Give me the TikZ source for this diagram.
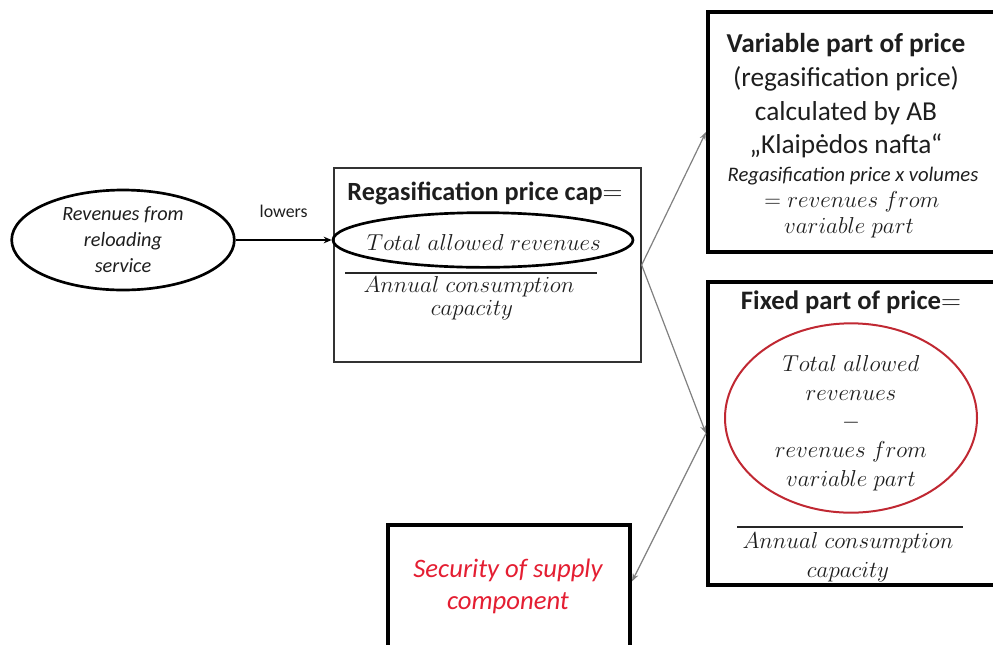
\documentclass[tikz,border=0pt]{standalone}
\usepackage{fontspec}
\setmainfont{Carlito}
\usetikzlibrary{shapes.geometric,arrows.meta,calc}
\definecolor{conn}{RGB}{128,128,128}
\definecolor{redline}{RGB}{192,40,50}
\definecolor{redtext}{RGB}{228,30,50}
\definecolor{ink}{RGB}{30,30,30}
\begin{document}
\begin{tikzpicture}[x=0.75pt,y=-0.75pt,
  thickbox/.style={draw=black,line width=3pt,inner sep=0pt},
  thinbox/.style={draw=black!80,line width=1pt,inner sep=0pt},
  oval/.style={ellipse,draw=black,line width=2pt,inner sep=0pt},
  redoval/.style={ellipse,draw=redline,line width=1.5pt,inner sep=0pt},
  conn/.style={draw=conn,line width=0.9pt,-{Stealth[length=6pt,width=4.5pt]}},
  fracline/.style={draw=black!85,line width=0.9pt},
  txt/.style={inner sep=0pt,align=center,text=ink},
  mth/.style={inner sep=0pt,align=center,text=ink,font=\fontsize{17.5}{22}\selectfont}
]
\useasboundingbox (0,0) rectangle (993,644);

% boxes
\node[thinbox,minimum width=230.25pt,minimum height=145.5pt] (mid) at (487.5,265) {};
\node[thickbox,minimum width=216pt,minimum height=180pt] (var) at (852,132) {};
\node[thickbox,minimum width=216pt,minimum height=227.25pt] (fix) at (852,433.5) {};
\node[thickbox,minimum width=181.5pt,minimum height=101.25pt] (sec) at (509,592.5) {};

% left ellipse
\node[oval,minimum width=167pt,minimum height=75pt,align=center,
  font=\fontsize{15.2}{19.5}\selectfont\itshape,text=ink] (rev) at (123,240)
  {Revenues from\\reloading\\service};

% middle box content
\node[txt,font=\fontsize{19.7}{22}\selectfont\bfseries] (midtitle) at (485,193) {Regasification price cap$=$};
\node[oval,minimum width=225pt,minimum height=41pt] (tar) at (483,240) {};
\node[mth] (tartxt) at (484,242) {$Total\;allowed\;revenues$};
\draw[fracline] (345,273) -- (597,273);
\node[mth] (acc1) at (469,287) {$Annual\;consumption$};
\node[mth] (acc2) at (472,310) {$capacity$};

% lowers connector
\draw[draw=black,line width=1pt,-{Stealth[length=6pt,width=5pt]}] (rev.east) -- (tar.west)
  node[midway,above=16pt,txt,font=\fontsize{13.4}{15}\selectfont] (lowers) {lowers};

% variable part box
\node[txt,font=\fontsize{20.5}{25.2}\selectfont] (vartxt) at (846,96)
  {\textbf{Variable part of price}\\(regasification price)\\calculated by AB\\„Klaipėdos nafta“};
\node[txt,font=\fontsize{15.5}{18}\selectfont\itshape] (varit) at (853,176) {Regasification price x volumes};
\node[mth] (varm1) at (852,202) {$=revenues\;from$};
\node[mth] (varm2) at (849,228) {$variable\;part$};

% fixed part box
\node[txt,font=\fontsize{20}{22}\selectfont\bfseries] (fixtitle) at (851,302) {Fixed part of price$=$};
\node[redoval,minimum width=189pt,minimum height=142pt] (fov) at (851,418) {};
\node[mth,font=\fontsize{19}{22}\selectfont] (fot) at (851,423)
  {$Total\;allowed$\\[-0.5pt]$revenues$\\[-0.5pt]$-$\\[-0.5pt]$revenues\;from$\\[-0.5pt]$variable\;part$};
\draw[fracline] (737,527) -- (963,527);
\node[mth,font=\fontsize{19}{22}\selectfont] (fac1) at (848,543) {$Annual\;consumption$};
\node[mth,font=\fontsize{19}{22}\selectfont] (fac2) at (848,572) {$capacity$};

% security
\node[txt,font=\fontsize{20}{24}\selectfont\itshape,text=redtext] (sectxt) at (508,586)
  {Security of supply\\component};

% connectors
\coordinate (secin) at ($(sec.north east)!0.42!(sec.south east)$);
\draw[conn] (mid.east) -- (var.west);
\draw[conn] (mid.east) -- (fix.west);
\draw[conn] (fix.west) -- (secin);
\end{tikzpicture}
\end{document}
